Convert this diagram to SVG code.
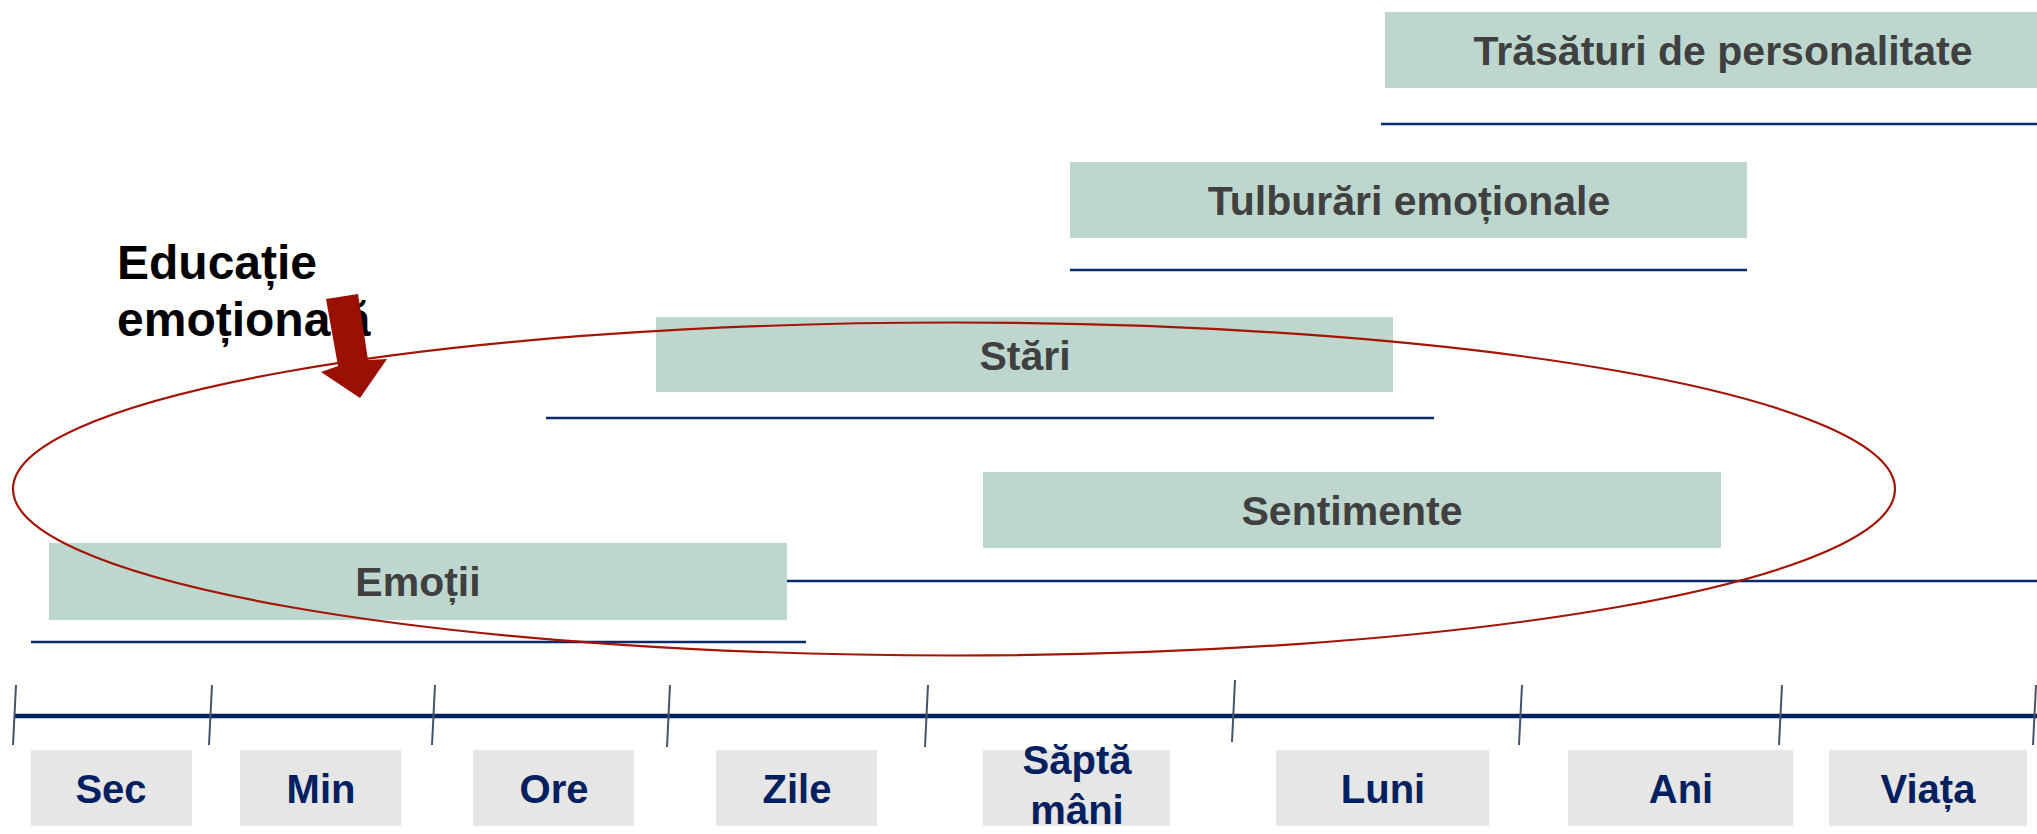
<svg xmlns="http://www.w3.org/2000/svg" width="2037" height="834" viewBox="0 0 2037 834">
<style>
.bar{fill:#bdd7ce}
.bt{font-family:"Liberation Sans",Arial,sans-serif;font-weight:bold;font-size:41px;fill:#404040;text-anchor:middle}
.rng{stroke:#0b2a6b;stroke-width:2.5;fill:none}
.lab{fill:#e6e6e6}
.lt{font-family:"Liberation Sans",Arial,sans-serif;font-weight:bold;font-size:40px;fill:#002060;text-anchor:middle}
.tick{stroke:#44546a;stroke-width:2;fill:none}
</style>
<rect width="2037" height="834" fill="#fff"/>
<g id="connectors">
<line class="rng" x1="1381" y1="124" x2="2037" y2="124"/>
<line class="rng" x1="1070" y1="270" x2="1747" y2="270"/>
<line class="rng" x1="546" y1="418" x2="1434" y2="418"/>
<line class="rng" x1="787" y1="581" x2="2037" y2="581"/>
<line class="rng" x1="31" y1="642" x2="806" y2="642"/>
</g>
<g id="trasaturi"><rect class="bar" x="1385" y="12" width="660" height="76"/><text class="bt" x="1723" y="65">Trăsături de personalitate</text></g>
<g id="tulburari"><rect class="bar" x="1070" y="162" width="677" height="76"/><text class="bt" x="1409" y="215">Tulburări emoționale</text></g>
<g id="stari"><rect class="bar" x="656" y="317" width="737" height="75"/><text class="bt" x="1025" y="370">Stări</text></g>
<g id="sentimente"><rect class="bar" x="983" y="472" width="738" height="76"/><text class="bt" x="1352" y="525">Sentimente</text></g>
<g id="emotii"><rect class="bar" x="49" y="543" width="738" height="77"/><text class="bt" x="418" y="596">Emoții</text></g>
<g id="timeline">
<line x1="14" y1="716" x2="2037" y2="716" stroke="#002060" stroke-width="4.5"/>
<line class="tick" x1="16" y1="685" x2="13" y2="745"/>
<line class="tick" x1="212" y1="685" x2="209" y2="745"/>
<line class="tick" x1="435" y1="685" x2="432" y2="745"/>
<line class="tick" x1="670" y1="685" x2="667" y2="747"/>
<line class="tick" x1="928" y1="685" x2="925" y2="747"/>
<line class="tick" x1="1235" y1="680" x2="1232" y2="742"/>
<line class="tick" x1="1522" y1="685" x2="1519" y2="745"/>
<line class="tick" x1="1782" y1="685" x2="1779" y2="745"/>
<line class="tick" x1="2036" y1="685" x2="2033" y2="745"/>
</g>
<g id="sec"><rect class="lab" x="31" y="750" width="161" height="76"/><text class="lt" x="111" y="803">Sec</text></g>
<g id="min"><rect class="lab" x="240" y="750" width="161" height="76"/><text class="lt" x="321" y="803">Min</text></g>
<g id="ore"><rect class="lab" x="473" y="750" width="161" height="76"/><text class="lt" x="554" y="803">Ore</text></g>
<g id="zile"><rect class="lab" x="716" y="750" width="161" height="76"/><text class="lt" x="797" y="803">Zile</text></g>
<g id="saptamani"><rect class="lab" x="983" y="750" width="187" height="76"/><text class="lt" x="1077" y="774">Săptă</text><text class="lt" x="1077" y="824">mâni</text></g>
<g id="luni"><rect class="lab" x="1276" y="750" width="213" height="76"/><text class="lt" x="1383" y="803">Luni</text></g>
<g id="ani"><rect class="lab" x="1568" y="750" width="225" height="76"/><text class="lt" x="1681" y="803">Ani</text></g>
<g id="viata"><rect class="lab" x="1829" y="750" width="198" height="76"/><text class="lt" x="1928" y="803">Viața</text></g>
<g id="educatie">
<text font-family="'Liberation Sans',Arial,sans-serif" font-weight="bold" font-size="48" fill="#000"><tspan x="117" y="279">Educație</tspan><tspan x="117" y="336">emoțională</tspan></text>
</g>
<g id="ellipse"><ellipse cx="954" cy="489" rx="941" ry="166.5" fill="none" stroke="#a31507" stroke-width="2.2"/></g>
<g id="arrow"><polygon points="326,299 358,294 368,360 387,359 360,398 321,372 338,366" fill="#9b1004"/></g>
</svg>
